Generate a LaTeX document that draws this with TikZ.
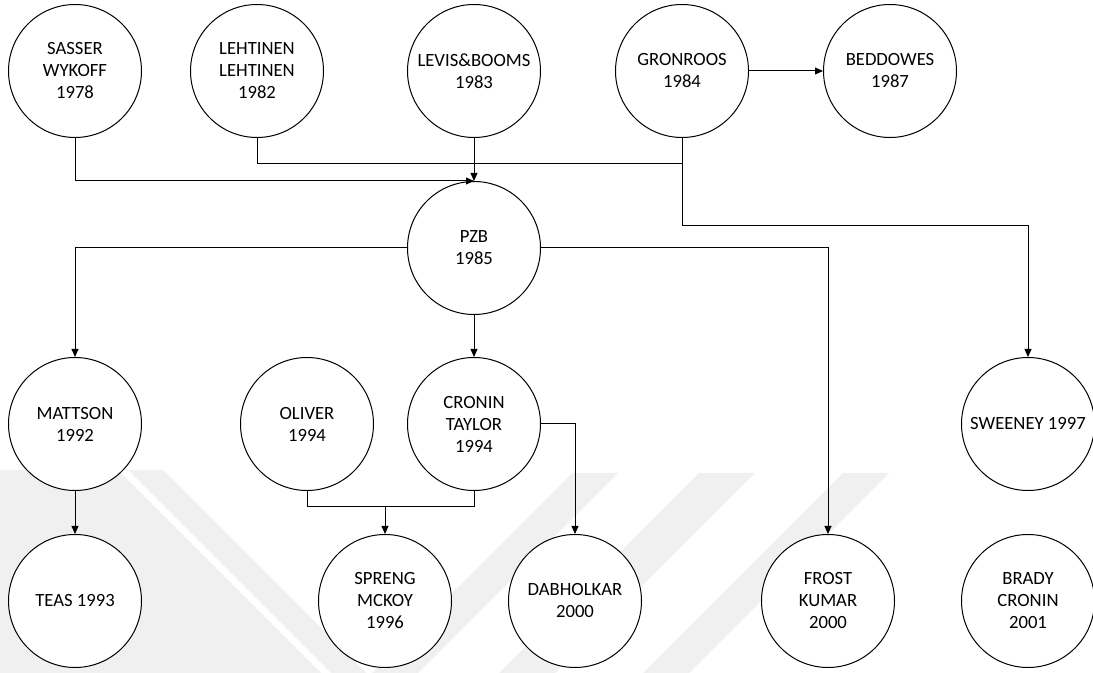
\documentclass[tikz,border=0pt]{standalone}
\usepackage{fontspec}
\setmainfont{Carlito}
\usetikzlibrary{arrows.meta}

\tikzset{
  author/.style={circle, draw=black, fill=white, line width=0.75pt,
    minimum size=99.75pt, inner sep=0pt, align=center,
    font=\fontsize{14}{16.5}\selectfont},
  link/.style={draw=black, line width=0.75pt},
  arr/.style={link, -{Triangle[length=6pt,width=5.2pt]}},
  wmark/.style={fill=black!6, draw=none}
}

\begin{document}
\begin{tikzpicture}[x=0.75pt, y=-0.75pt]
  \useasboundingbox (0,0) rectangle (1093,673);

  % faint background emblem
  \fill[wmark] (0,470) -- (118,470) -- (321,673) -- (0,673) -- cycle;
  \fill[wmark] (128,470) -- (163,470) -- (366,673) -- (331,673) -- cycle;
  \fill[wmark] (572,473) -- (618,473) -- (418,673) -- (372,673) -- cycle;
  \fill[wmark] (699,473) -- (755,473) -- (555,673) -- (499,673) -- cycle;
  \fill[wmark] (843,473) -- (889,473) -- (689,673) -- (643,673) -- cycle;

  % authors, row by row
  \node[author] (sas) at (75,71)   {SASSER\\WYKOFF\\1978};
  \node[author] (leh) at (257,71)  {LEHTINEN\\LEHTINEN\\1982};
  \node[author] (lev) at (474,71)  {LEVIS\&BOOMS\\1983};
  \node[author] (gro) at (682,71)  {GRONROOS\\1984};
  \node[author] (bed) at (890,71)  {BEDDOWES\\1987};

  \node[author] (pzb) at (474,248) {PZB\\1985};

  \node[author] (mat) at (75,424)  {MATTSON\\1992};
  \node[author] (oli) at (307,424) {OLIVER\\1994};
  \node[author] (cro) at (474,424) {CRONIN\\TAYLOR\\1994};
  \node[author] (swe) at (1028,424) {SWEENEY 1997};

  \node[author] (tea) at (75,601)  {TEAS 1993};
  \node[author] (spr) at (385,601) {SPRENG\\MCKOY\\1996};
  \node[author] (dab) at (575,601) {DABHOLKAR\\2000};
  \node[author] (fro) at (828,601) {FROST\\KUMAR\\2000};
  \node[author] (bra) at (1028,601) {BRADY\\CRONIN\\2001};

  % junction points of the elbow connectors
  \coordinate (gtop) at (682,164);
  \coordinate (gbot) at (682,226);
  \coordinate (ojoin) at (307,507);
  \coordinate (sjoin) at (385,507);
  \coordinate (cjoin) at (474,507);

  % links into PZB
  \draw[arr] (sas.south) |- (pzb.north);
  \draw[arr] (lev.south) -- (pzb.north);
  \draw[link] (leh.south) |- (gtop);
  \draw[link] (gro.south) -- (gbot);
  \draw[arr] (gro.east) -- (bed.west);
  \draw[arr] (gbot) -| (swe.north);

  % links out of PZB
  \draw[arr] (pzb.west) -| (mat.north);
  \draw[arr] (pzb.south) -- (cro.north);
  \draw[arr] (pzb.east) -| (fro.north);

  % lower rows
  \draw[arr] (mat.south) -- (tea.north);
  \draw[link] (oli.south) -- (ojoin) -- (cjoin) -- (cro.south);
  \draw[arr] (sjoin) -- (spr.north);
  \draw[arr] (cro.east) -| (dab.north);
\end{tikzpicture}
\end{document}
